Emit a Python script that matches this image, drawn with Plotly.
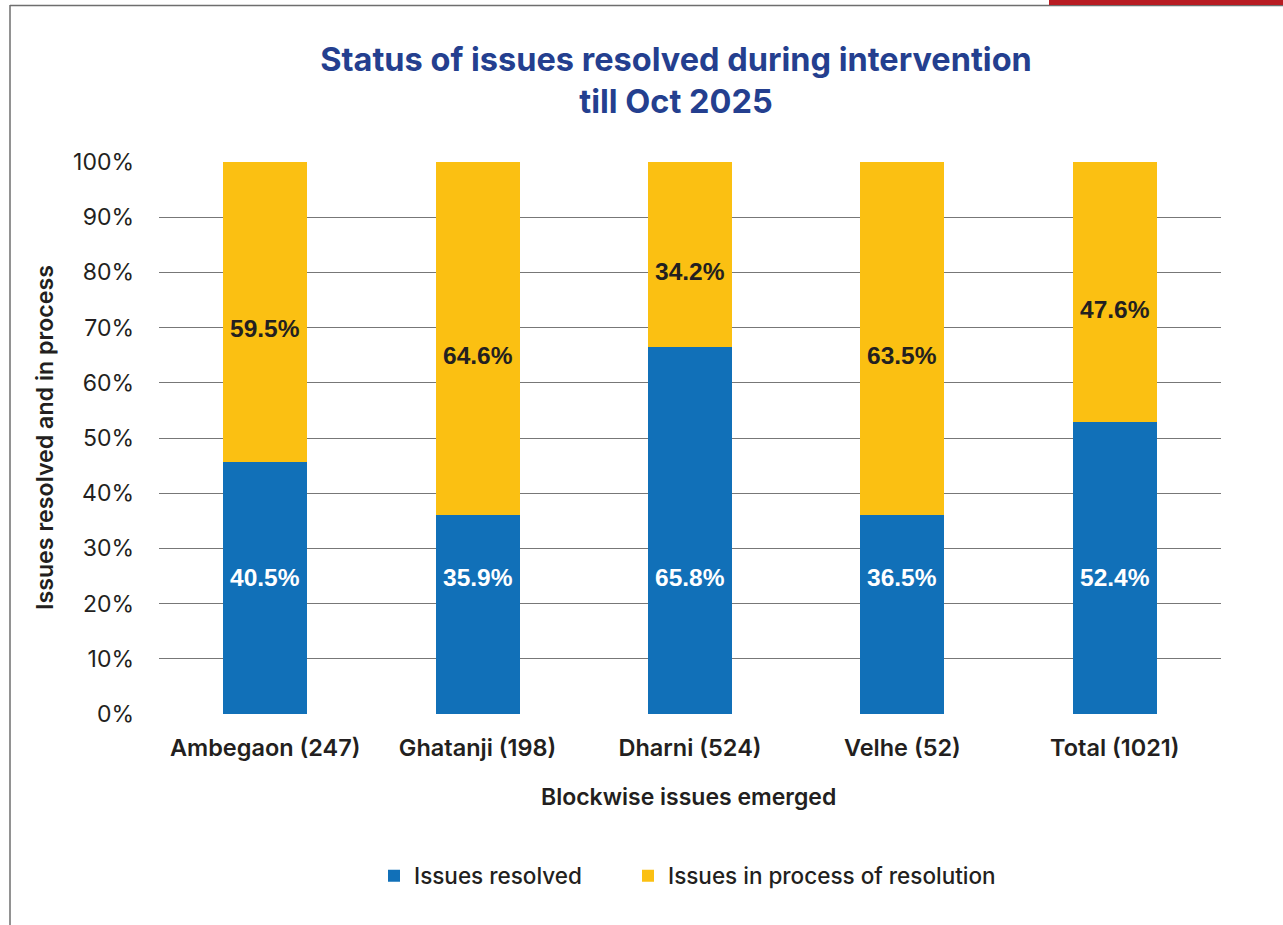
import plotly.graph_objects as go

# ---------------- data ----------------
blocks = ["Ambegaon (247)", "Ghatanji (198)", "Dharni (524)", "Velhe (52)", "Total (1021)"]
resolved_share = [45.7, 36.1, 66.5, 36.0, 52.9]          # bar heights as drawn (%)
in_process_share = [54.3, 63.9, 33.5, 64.0, 47.1]        # bar heights as drawn (%)
resolved_labels = ["40.5%", "35.9%", "65.8%", "36.5%", "52.4%"]
in_process_labels = ["59.5%", "64.6%", "34.2%", "63.5%", "47.6%"]
y_tick_values = [0, 10, 20, 30, 40, 50, 60, 70, 80, 90, 100]
y_tick_labels = ["0%", "10%", "20%", "30%", "40%", "50%", "60%", "70%", "80%", "90%", "100%"]

# ---------------- style ----------------
W, H = 1283, 925
ML, MR, MT, MB = 159, 62, 162, 211
PW, PH = W - ML - MR, H - MT - MB
BLUE = "#1170b8"
YELLOW = "#fbc012"
NAVY = "#243f8f"
TEXT = "#231f20"
GRID = "#777777"
FONT = "Inter"
LABEL_FONT = "Liberation Sans"


def px_x(px):
    return (px - ML) / PW


def px_y(py):
    return (H - MB - py) / PH


fig = go.Figure()
fig.add_bar(x=blocks, y=resolved_share, name="Issues resolved", legend="legend",
            marker=dict(color=BLUE, line=dict(width=0)), hoverinfo="skip")
fig.add_bar(x=blocks, y=in_process_share, name="Issues in process of resolution", legend="legend2",
            marker=dict(color=YELLOW, line=dict(width=0)), hoverinfo="skip")

annotations = []
for cat, r, lab in zip(blocks, resolved_share, resolved_labels):
    annotations.append(dict(x=cat, y=24.7, xref="x", yref="y", text=lab, showarrow=False,
                            font=dict(family=LABEL_FONT, size=24.5, color="white", weight="bold")))
for cat, r, p, lab in zip(blocks, resolved_share, in_process_share, in_process_labels):
    annotations.append(dict(x=cat, y=r + p / 2, xref="x", yref="y", text=lab, showarrow=False,
                            yshift=-17,
                            font=dict(family=LABEL_FONT, size=24.5, color=TEXT, weight="bold")))

# axis titles
annotations.append(dict(x=px_x(688), y=px_y(797), xref="paper", yref="paper",
                        text="Blockwise issues emerged", showarrow=False,
                        xanchor="center", yanchor="middle",
                        font=dict(family=FONT, size=23, color=TEXT, weight=600)))
annotations.append(dict(x=px_x(45), y=px_y(438), xref="paper", yref="paper",
                        text="Issues resolved and in process", showarrow=False, textangle=-90,
                        xanchor="center", yanchor="middle",
                        font=dict(family=FONT, size=23.2, color=TEXT, weight=600)))

shapes = [
    # left frame line
    dict(type="line", xref="paper", yref="paper", x0=px_x(10), x1=px_x(10),
         y0=px_y(5), y1=px_y(925), line=dict(color="#6e6e6e", width=1.5)),
    # top frame line
    dict(type="line", xref="paper", yref="paper", x0=px_x(10), x1=px_x(1283),
         y0=px_y(5.5), y1=px_y(5.5), line=dict(color="#6e6e6e", width=1.5)),
    # red corner band
    dict(type="rect", xref="paper", yref="paper", x0=px_x(1049), x1=px_x(1283),
         y0=px_y(5), y1=px_y(0), line=dict(width=0), fillcolor="#b81c22"),
]

legend_font = dict(family=FONT, size=22.5, color=TEXT, weight=500)

fig.update_layout(
    width=W, height=H,
    margin=dict(l=ML, r=MR, t=MT, b=MB, pad=0),
    paper_bgcolor="white", plot_bgcolor="white",
    barmode="stack", bargap=0.605,
    title=dict(text="Status of issues resolved during intervention<br>till Oct 2025",
               x=676 / W, xref="container", xanchor="center",
               y=1 - 71 / H, yref="container", yanchor="middle",
               font=dict(family=FONT, size=32.5, color=NAVY, weight=700)),
    xaxis=dict(showgrid=False, showline=False, zeroline=False, ticks="",
               tickfont=dict(family=FONT, size=23.5, color=TEXT, weight=600),
               ticklabelstandoff=17),
    yaxis=dict(range=[0, 100], tickvals=y_tick_values, ticktext=y_tick_labels,
               showgrid=True, gridcolor=GRID, gridwidth=1, zeroline=False, showline=False,
               ticks="", tickfont=dict(family=FONT, size=23, color=TEXT),
               ticklabelstandoff=24, fixedrange=True),
    legend=dict(orientation="h", x=px_x(374), xanchor="left", y=px_y(876), yanchor="middle",
                font=legend_font, itemclick=False, itemdoubleclick=False),
    legend2=dict(orientation="h", x=px_x(628), xanchor="left", y=px_y(876), yanchor="middle",
                 font=legend_font, itemclick=False, itemdoubleclick=False),
    annotations=annotations,
    shapes=shapes,
    showlegend=True,
)

fig.write_html("out.html", config={"displayModeBar": False, "staticPlot": False},
               post_script="document.body.style.margin='0px';document.body.style.overflow='hidden';")
